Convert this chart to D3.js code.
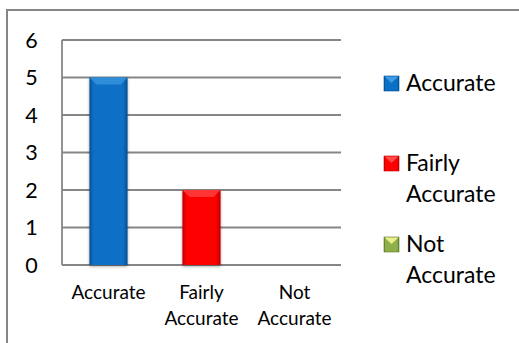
<!DOCTYPE html>
<html>
<head>
<meta charset="utf-8">
<script src="https://cdn.jsdelivr.net/npm/d3@7"></script>
<style>
  html, body { margin: 0; padding: 0; background: #fff; }
  svg { display: block; }
  text { font-family: Lato, "Open Sans", sans-serif; fill: #000; }
</style>
</head>
<body>
<svg id="chart" width="519" height="343"></svg>
<script>
// Response counts per rating
const categories = ["Accurate", "Fairly Accurate", "Not Accurate"];
const xLabelLines = [["Accurate"], ["Fairly", "Accurate"], ["Not", "Accurate"]];
const values = [5, 2, 0];
const yTicks = [0, 1, 2, 3, 4, 5, 6];
const legendLines = [["Accurate"], ["Fairly", "Accurate"], ["Not", "Accurate"]];

const palette = [
  { base: "#0870c6", edge: "#064f8f", top: "#3f9be3" },
  { base: "#ff0000", edge: "#b80000", top: "#ff4a4a" },
  { base: "#8db04a", edge: "#5f7a2a", top: "#e8f08a" }
];

const svg = d3.select("#chart");
const W = 519, H = 343;
const axisFont = 19, tickFont = 21.5, legendFont = 23;

const plot = { left: 62, right: 341, top: 40, bottom: 265 };

const x = d3.scaleBand()
  .domain(categories)
  .range([plot.left, plot.right])
  .paddingInner(0.59)
  .paddingOuter(0.295);

const y = d3.scaleLinear()
  .domain([0, 6])
  .range([plot.bottom, plot.top]);

// gradients for the bevelled bars
const defs = svg.append("defs");
palette.forEach((p, i) => {
  const g = defs.append("linearGradient").attr("id", "bar" + i)
    .attr("x1", "0%").attr("x2", "100%").attr("y1", "0%").attr("y2", "0%");
  g.append("stop").attr("offset", "0%").attr("stop-color", p.edge);
  g.append("stop").attr("offset", "10%").attr("stop-color", p.base);
  g.append("stop").attr("offset", "88%").attr("stop-color", p.base);
  g.append("stop").attr("offset", "100%").attr("stop-color", p.edge);
});
const shadow = defs.append("filter").attr("id", "shadow")
  .attr("x", "-30%").attr("y", "-10%").attr("width", "160%").attr("height", "130%");
shadow.append("feDropShadow").attr("dx", 0).attr("dy", 1.5).attr("stdDeviation", 1.5)
  .attr("flood-color", "#000").attr("flood-opacity", 0.35);

// outer chart frame
svg.append("rect")
  .attr("x", 7).attr("y", 10)
  .attr("width", W + 20).attr("height", H + 20)
  .attr("fill", "#fff")
  .attr("stroke", "#868686").attr("stroke-width", 2);

// horizontal gridlines
svg.append("g").selectAll("line")
  .data(yTicks)
  .join("line")
  .attr("x1", plot.left).attr("x2", plot.right)
  .attr("y1", d => y(d)).attr("y2", d => y(d))
  .attr("stroke", "#868686").attr("stroke-width", 1.8);

// vertical axis line
svg.append("line")
  .attr("x1", plot.left).attr("x2", plot.left)
  .attr("y1", y(6)).attr("y2", y(0))
  .attr("stroke", "#868686").attr("stroke-width", 1.8);

// y tick labels
svg.append("g").selectAll("text")
  .data(yTicks)
  .join("text")
  .attr("x", 31.5)
  .attr("y", d => y(d))
  .attr("dy", "0.36em")
  .attr("text-anchor", "middle")
  .attr("font-size", tickFont)
  .text(d => d);

// bars
const bars = svg.append("g").selectAll("g")
  .data(values.map((v, i) => ({ v, i, c: categories[i] })).filter(d => d.v > 0))
  .join("g");

bars.append("rect")
  .attr("x", d => x(d.c))
  .attr("y", d => y(d.v))
  .attr("width", x.bandwidth())
  .attr("height", d => y(0) - y(d.v))
  .attr("fill", d => `url(#bar${d.i})`)
  .attr("filter", "url(#shadow)");

// top bevel
bars.append("path")
  .attr("d", d => {
    const x0 = x(d.c), x1 = x0 + x.bandwidth(), t = y(d.v), b = 7;
    return `M${x0},${t}L${x1},${t}L${x1 - b},${t + b}L${x0 + b},${t + b}Z`;
  })
  .attr("fill", d => palette[d.i].top)
  .attr("opacity", 0.7);

// x category labels
const xl = svg.append("g").selectAll("text")
  .data(categories)
  .join("text")
  .attr("x", d => x(d) + x.bandwidth() / 2)
  .attr("y", 299)
  .attr("text-anchor", "middle")
  .attr("font-size", axisFont);
xl.selectAll("tspan")
  .data((d, i) => xLabelLines[i])
  .join("tspan")
  .attr("x", function() { return d3.select(this.parentNode).attr("x"); })
  .attr("dy", (d, j) => j === 0 ? 0 : 26)
  .text(d => d);

// legend
const legendTops = [76, 156, 237];
const legend = svg.append("g").selectAll("g")
  .data(categories)
  .join("g")
  .attr("transform", (d, i) => `translate(384,${legendTops[i]})`);

legend.append("rect")
  .attr("width", 15).attr("height", 15)
  .attr("fill", (d, i) => `url(#bar${i})`)
  .attr("stroke", (d, i) => palette[i].edge).attr("stroke-width", 0.6);
legend.append("path")
  .attr("d", "M0.5,0.5L14.5,0.5L7.5,7Z")
  .attr("fill", (d, i) => palette[i].top);

const lt = legend.append("text")
  .attr("x", 22)
  .attr("y", 14.5)
  .attr("font-size", legendFont);
lt.selectAll("tspan")
  .data((d, i) => legendLines[i])
  .join("tspan")
  .attr("x", 22)
  .attr("dy", (d, j) => j === 0 ? 0 : 31)
  .text(d => d);
</script>
</body>
</html>
